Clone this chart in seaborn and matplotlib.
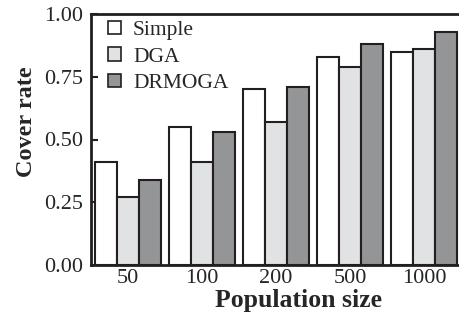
import pandas as pd
import seaborn as sns
import matplotlib.pyplot as plt
from matplotlib.patches import Patch

# data
pop_sizes = ['50', '100', '200', '500', '1000']
methods = ['Simple', 'DGA', 'DRMOGA']
simple = [0.41, 0.55, 0.70, 0.83, 0.85]
dga = [0.27, 0.41, 0.57, 0.79, 0.86]
drmoga = [0.34, 0.53, 0.71, 0.88, 0.93]
y_ticks = [0.00, 0.25, 0.50, 0.75, 1.00]

colors = ['#ffffff', '#e1e2e4', '#939598']
edge = '#231f20'

rows = []
for m, vals in zip(methods, [simple, dga, drmoga]):
    for p, v in zip(pop_sizes, vals):
        rows.append({'Population size': p, 'Method': m, 'Cover rate': v})
df = pd.DataFrame(rows)

sns.set_style('ticks')
plt.rcParams['font.family'] = ['Liberation Serif', 'DejaVu Serif']
plt.rcParams['font.size'] = 16

fig = plt.figure(figsize=(4.59, 3.15), dpi=100)
ax = fig.add_axes([91 / 459, 50 / 315, 370 / 459, 251 / 315])

sns.barplot(data=df, x='Population size', y='Cover rate', hue='Method',
            order=pop_sizes, hue_order=methods, palette=colors,
            width=0.88, gap=0, edgecolor=edge, linewidth=1.5,
            legend=False, ax=ax)

ax.set_xlim(-0.5, 4.5)
ax.set_ylim(0, 1.0)
ax.set_yticks(y_ticks)
ax.set_yticklabels([f'{t:.2f}' for t in y_ticks])
ax.tick_params(axis='y', direction='in', length=5, width=1.5, color=edge,
               labelsize=16, pad=6)
ax.tick_params(axis='x', length=0, labelsize=16, pad=3)

for s in ['left', 'bottom', 'top']:
    ax.spines[s].set_linewidth(2)
    ax.spines[s].set_color(edge)
ax.spines['right'].set_visible(False)

ax.set_xlabel('Population size', fontsize=18.5, fontweight='bold')
ax.set_ylabel('Cover rate', fontsize=17.5, fontweight='bold')
ax.xaxis.set_label_coords(0.56, -0.097)
ax.yaxis.set_label_coords(-0.147, 0.57)

handles = [Patch(facecolor=c, edgecolor=edge, linewidth=1.2) for c in colors]
ax.legend(handles, methods, loc='upper left', bbox_to_anchor=(0.012, 1.025),
          frameon=False, fontsize=15.5, handlelength=0.6, handleheight=0.6,
          handletextpad=0.55, labelspacing=0.33, borderaxespad=0.2)

fig.savefig('out.png', dpi=100)
